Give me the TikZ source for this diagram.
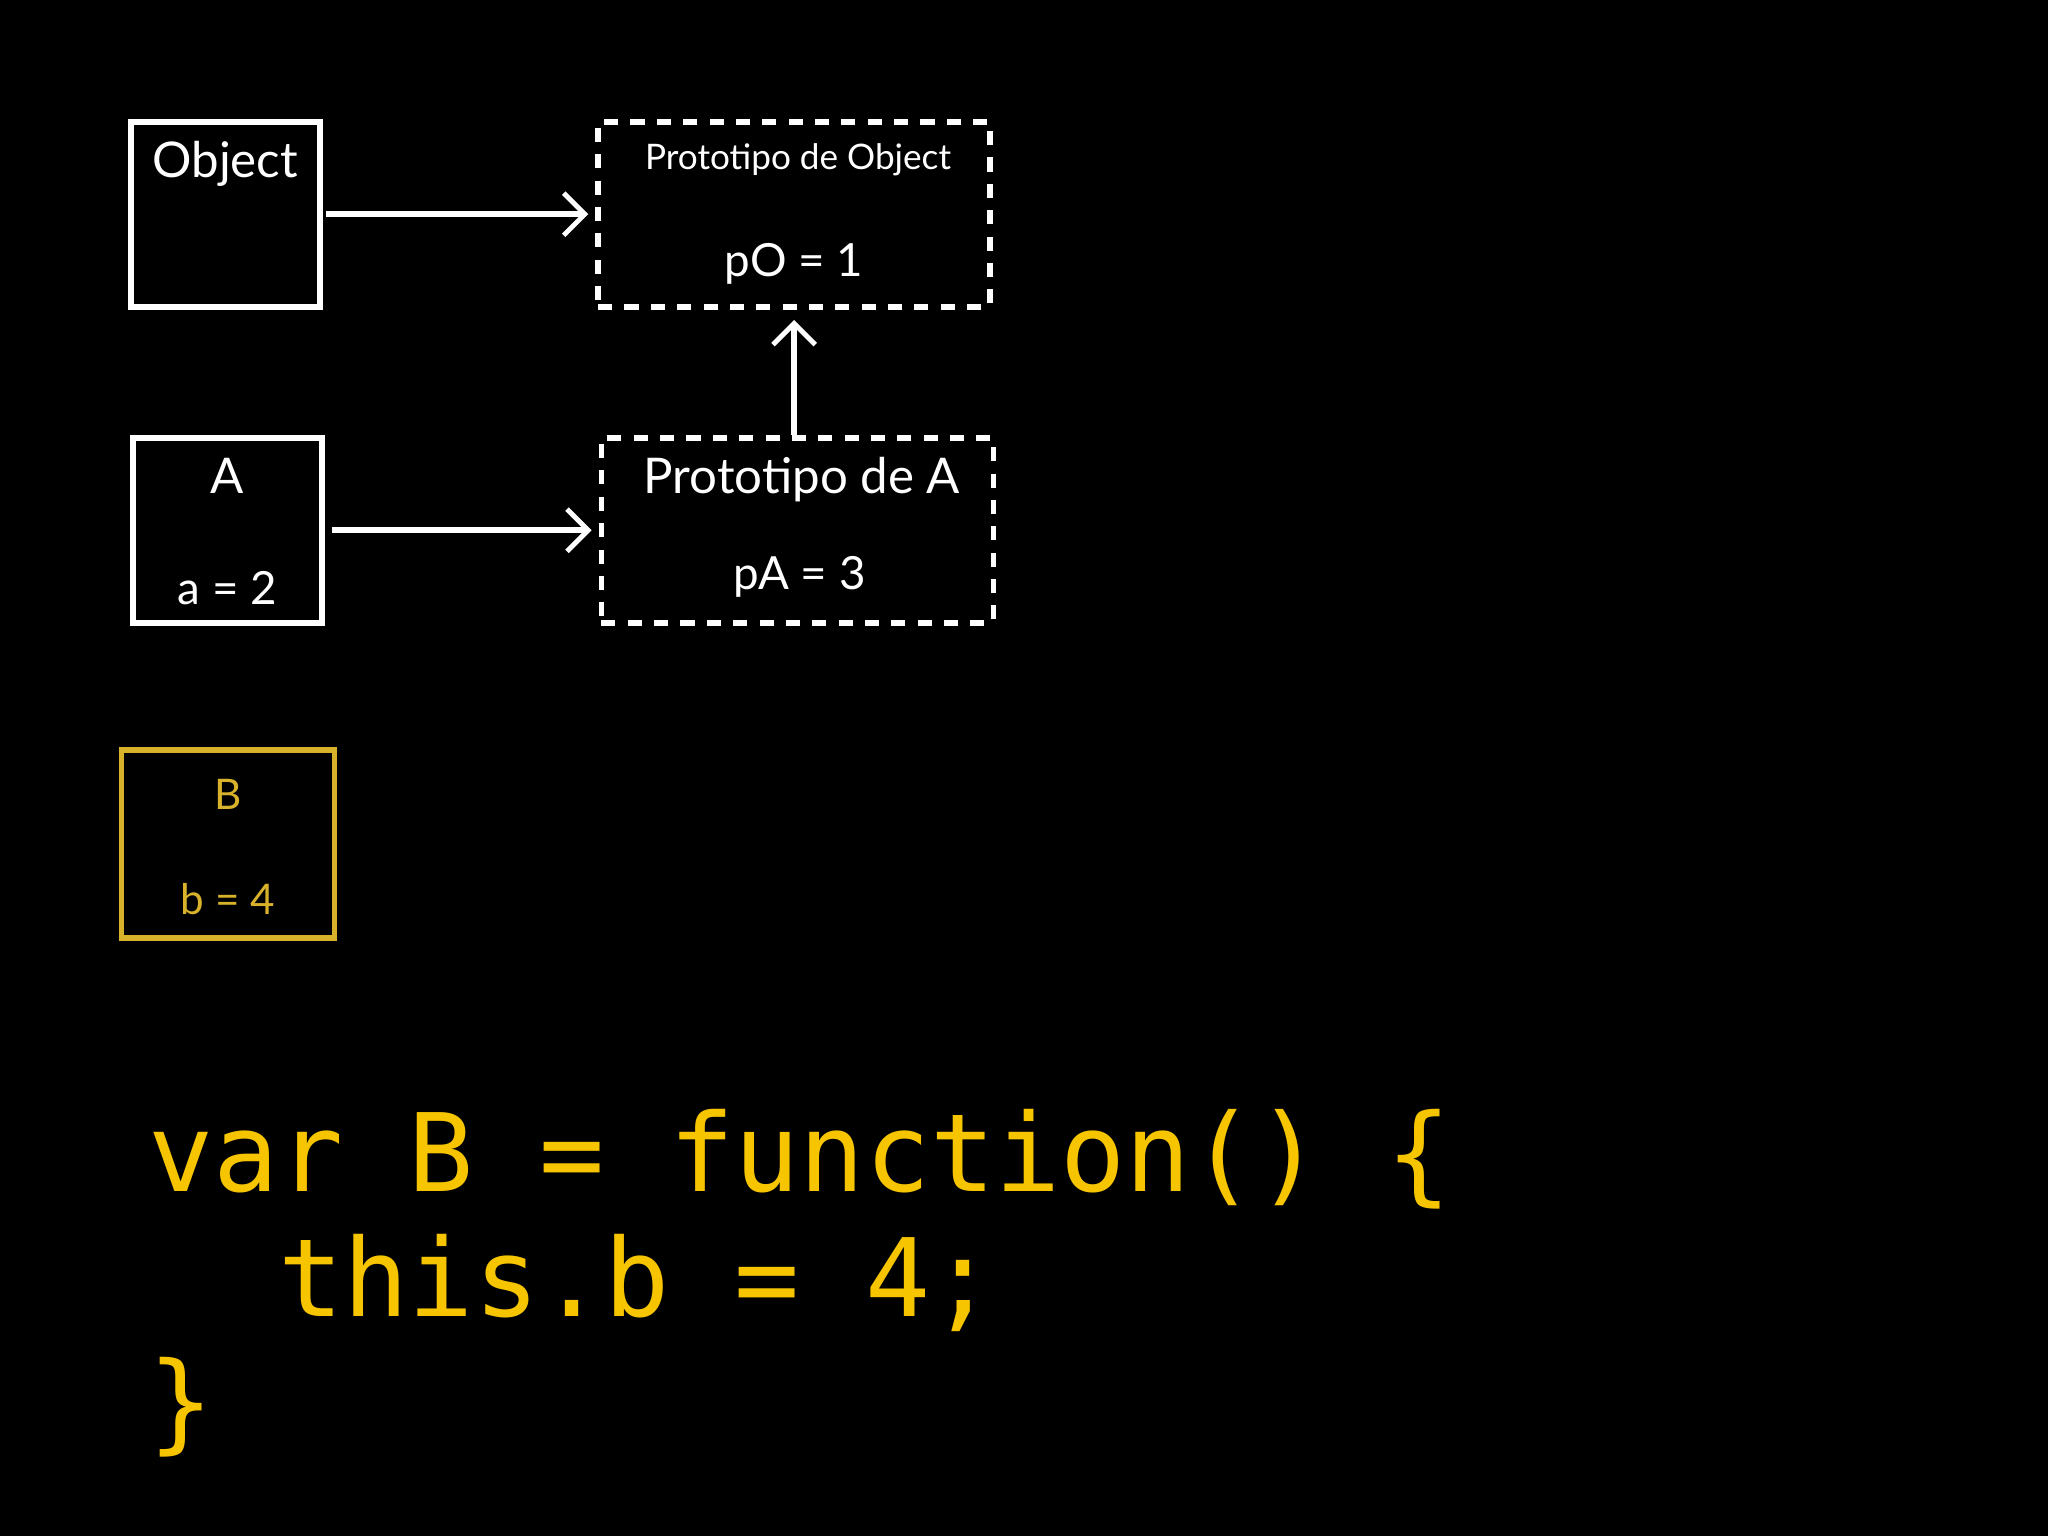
\documentclass[tikz,border=0pt]{standalone}
\usepackage{fontspec}
\setmainfont{Lato}
\setmonofont{DejaVu Sans Mono}
\usetikzlibrary{arrows.meta,positioning}
\definecolor{codeyellow}{HTML}{F6C500}
\definecolor{boxyellow}{HTML}{D8B22A}
\tikzset{
  box/.style={draw=white, line width=1.6pt, minimum width=1.89cm, minimum height=1.85cm, inner sep=0pt},
  protobox/.style={box, dashed, dash pattern=on 4pt off 3.5pt, minimum width=3.92cm},
  lbl/.style={text=white, inner sep=0pt, anchor=base},
  codeline/.style={anchor=base west, inner sep=0pt, text=codeyellow, font=\ttfamily\fontsize{30.8}{36}\selectfont},
  link/.style={draw=white, line width=1.6pt, -{Straight Barb[length=6pt,width=12pt,line width=1.4pt]}},
}
\begin{document}
\begin{tikzpicture}[x=0.01306cm, y=-0.01306cm]
\fill[black] (0,0) rectangle (1568,1176);
\useasboundingbox (0,0) rectangle (1568,1176);
% boxes
\node[box] (obj) at (172.5,164) {};
\node[protobox] (pobj) at (608,164) {};
\node[box] (a) at (174,406) {};
\node[protobox] (pa) at (610.5,406) {};
\node[box, draw=boxyellow, minimum width=2.13cm, minimum height=1.88cm] (b) at (174.5,646) {};
% labels
\node[lbl, font=\fontsize{14}{16}\selectfont] (objname) at (172.5,136) {Object};
\node[lbl, font=\fontsize{10}{12}\selectfont] (pobjname) at (611,130) {Prototipo de Object};
\node[lbl, font=\fontsize{13}{15}\selectfont] (pobjval) at (608,212) {pO = 1};
\node[lbl, font=\fontsize{14}{16}\selectfont] (aname) at (174,378) {A};
\node[lbl, font=\fontsize{13}{15}\selectfont] (aval) at (174,463) {a = 2};
\node[lbl, font=\fontsize{14}{16}\selectfont] (paname) at (614,378) {Prototipo de A};
\node[lbl, font=\fontsize{13}{15}\selectfont] (paval) at (612,451) {pA = 3};
\node[lbl, text=boxyellow, font=\fontsize{12}{14}\selectfont] (bname) at (174.5,620) {B};
\node[lbl, text=boxyellow, font=\fontsize{12}{14}\selectfont] (bval) at (174.5,700) {b = 4};
% links
\draw[link, shorten <=1pt, shorten >=2pt] (obj) -- (pobj);
\draw[link, shorten <=2pt, shorten >=2pt] (a) -- (pa);
\draw[link, shorten >=3pt] (pa.north -| pobj.south) -- (pobj.south);
% code
\node[codeline] (code1) at (113,912) {var B = function() \{};
\node[codeline] (code2) at (113,1008) {\ \ this.b = 4;};
\node[codeline] (code3) at (113,1102) {\}};
\end{tikzpicture}
\end{document}
